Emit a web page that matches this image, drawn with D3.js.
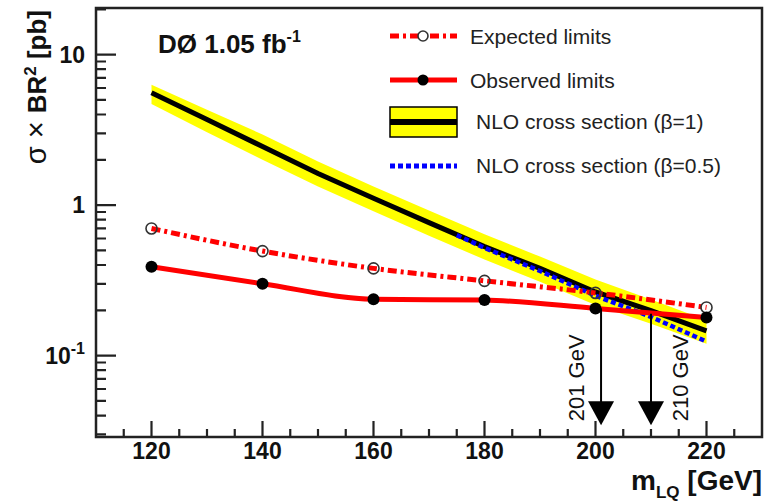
<!DOCTYPE html>
<html>
<head>
<meta charset="utf-8">
<script src="https://cdn.jsdelivr.net/npm/d3@7"></script>
<style>
  body { margin: 0; background: #fff; }
  text { font-family: "Liberation Sans", Arial, sans-serif; }
</style>
</head>
<body>
<div id="chart"></div>
<script>
// limits
var massPoints = [120, 140, 160, 180, 200, 220];
var expectedLimit = [0.70, 0.495, 0.38, 0.314, 0.261, 0.209];
var observedLimit = [0.39, 0.30, 0.237, 0.234, 0.206, 0.179];

// NLO cross section (beta=1) with its uncertainty band
var nloMass = [120, 130, 140, 150, 160, 170, 180, 190, 200, 210, 220];
var nloXsec = [5.57, 3.71, 2.45, 1.62, 1.11, 0.765, 0.53, 0.38, 0.265, 0.199, 0.146];
var nloUp   = [6.3, 4.3, 2.95, 1.95, 1.33, 0.92, 0.64, 0.455, 0.32, 0.236, 0.172];
var nloDown = [4.7, 3.05, 2.0, 1.33, 0.91, 0.625, 0.435, 0.31, 0.217, 0.163, 0.12];

// NLO cross section (beta=0.5)
var halfMass = [175, 180, 190, 200, 210, 220];
var halfXsec = [0.632, 0.52, 0.365, 0.25, 0.181, 0.124];

// mass limit arrows
var limitMass = [201, 210];
var limitFrom = [0.206, 0.19];
var limitTo = 0.0345;
var limitLabel = ["201 GeV", "210 GeV"];

var xMajor = [120, 140, 160, 180, 200, 220];
var yMajor = [0.1, 1, 10];

var width = 773, height = 504;
var margin = {top: 8, right: 11, bottom: 67, left: 96};
var w = width - margin.left - margin.right,
    h = height - margin.top - margin.bottom;

var x = d3.scaleLinear().domain([110, 230]).range([0, w]);
var y = d3.scaleLog().domain([0.0288, 20.4]).range([h, 0]);

var svg = d3.select("#chart").append("svg")
  .attr("width", width)
  .attr("height", height);

var main = svg.append("g")
  .attr("transform", "translate(" + margin.left + "," + margin.top + ")");

// clip so nothing leaves the frame
main.append("clipPath").attr("id", "clip")
  .append("rect").attr("width", w).attr("height", h);

var plot = main.append("g").attr("clip-path", "url(#clip)");

// yellow band
var band = d3.area()
  .x(function(d, i) { return x(nloMass[i]); })
  .y0(function(d, i) { return y(nloDown[i]); })
  .y1(function(d, i) { return y(nloUp[i]); });

plot.append("path")
  .datum(nloMass)
  .attr("d", band)
  .style("fill", "#ffff00")
  .style("stroke", "none");

plot.append("path")
  .datum(nloMass)
  .attr("d", d3.line()
    .x(function(d, i) { return x(nloMass[i]); })
    .y(function(d, i) { return y(nloXsec[i]); }))
  .style("fill", "none")
  .style("stroke", "#000")
  .style("stroke-width", 5);

plot.append("path")
  .datum(halfMass)
  .attr("d", d3.line()
    .x(function(d, i) { return x(halfMass[i]); })
    .y(function(d, i) { return y(halfXsec[i]); }))
  .style("fill", "none")
  .style("stroke", "#0000ff")
  .style("stroke-width", 4.5)
  .style("stroke-dasharray", "5,3");

// limit curves
var limitLine = function(vals) {
  return d3.line()
    .curve(d3.curveMonotoneX)
    .x(function(d, i) { return x(massPoints[i]); })
    .y(function(d, i) { return y(vals[i]); });
};

plot.append("path")
  .datum(massPoints)
  .attr("d", limitLine(expectedLimit))
  .style("fill", "none")
  .style("stroke", "#ff0000")
  .style("stroke-width", 5)
  .style("stroke-dasharray", "9,4,3,4");

plot.append("path")
  .datum(massPoints)
  .attr("d", limitLine(observedLimit))
  .style("fill", "none")
  .style("stroke", "#ff0000")
  .style("stroke-width", 5);

plot.selectAll(".exp-dot")
  .data(massPoints)
  .enter().append("circle")
  .attr("cx", function(d) { return x(d); })
  .attr("cy", function(d, i) { return y(expectedLimit[i]); })
  .attr("r", 5.5)
  .style("fill", "none")
  .style("stroke", "#333")
  .style("stroke-width", 1.6);

plot.selectAll(".obs-dot")
  .data(massPoints)
  .enter().append("circle")
  .attr("cx", function(d) { return x(d); })
  .attr("cy", function(d, i) { return y(observedLimit[i]); })
  .attr("r", 6)
  .style("fill", "#000");

// arrows
limitMass.forEach(function(m, i) {
  var ax = x(m), top = y(limitFrom[i]), tip = y(limitTo);
  main.append("line")
    .attr("x1", ax).attr("x2", ax)
    .attr("y1", top).attr("y2", tip - 20)
    .style("stroke", "#000")
    .style("stroke-width", 2);
  main.append("path")
    .attr("d", "M" + (ax - 13) + "," + (tip - 24) + "L" + (ax + 13) + "," + (tip - 24) + "L" + ax + "," + tip + "Z")
    .style("fill", "#000");
  var tx = i == 0 ? ax - 17 : ax + 37;
  main.append("text")
    .attr("transform", "translate(" + tx + "," + (tip - 4) + ") rotate(-90)")
    .style("font-size", "22px")
    .style("fill", "#111")
    .text(limitLabel[i]);
});

// ticks, pointing into the frame
var yMinor = [];
[0.01, 0.1, 1, 10].forEach(function(dec) {
  for (var k = 2; k <= 9; k++) {
    var v = dec * k;
    if (v >= y.domain()[0] && v <= y.domain()[1]) yMinor.push(v);
  }
});
var xMinor = d3.range(115, 230, 5).filter(function(v) { return xMajor.indexOf(v) < 0; });

var tp = d3.path();
yMajor.forEach(function(v) { tp.moveTo(0, y(v)); tp.lineTo(20, y(v)); });
yMinor.forEach(function(v) { tp.moveTo(0, y(v)); tp.lineTo(10, y(v)); });
xMajor.forEach(function(v) { tp.moveTo(x(v), h); tp.lineTo(x(v), h - 16); });
xMinor.forEach(function(v) { tp.moveTo(x(v), h); tp.lineTo(x(v), h - 8); });

main.append("path")
  .attr("d", tp.toString())
  .attr("fill", "none")
  .attr("stroke", "#222")
  .attr("stroke-width", 2.2);

// frame
main.append("rect")
  .attr("width", w).attr("height", h)
  .style("fill", "none")
  .style("stroke", "#222")
  .style("stroke-width", 2.5);

// tick labels
main.selectAll(".xlab")
  .data(xMajor)
  .enter().append("text")
  .attr("x", function(d) { return x(d); })
  .attr("y", h + 22)
  .style("text-anchor", "middle")
  .style("font-size", "23px")
  .style("font-weight", "bold")
  .style("fill", "#111")
  .text(function(d) { return d; });

var ylab = main.selectAll(".ylab")
  .data(yMajor)
  .enter().append("text")
  .attr("x", -11)
  .attr("y", function(d) { return y(d) + 8; })
  .style("text-anchor", "end")
  .style("font-size", "23px")
  .style("font-weight", "bold")
  .style("fill", "#111");
ylab.each(function(d) {
  var t = d3.select(this);
  if (d < 1) {
    t.append("tspan").text("10");
    t.append("tspan").attr("dy", -10).style("font-size", "16px").text("-1");
  } else {
    t.text(d);
  }
});

// axis titles
var xt = svg.append("text")
  .attr("x", 762)
  .attr("y", 490)
  .style("text-anchor", "end")
  .style("font-size", "28px")
  .style("font-weight", "bold")
  .style("fill", "#111");
xt.append("tspan").text("m");
xt.append("tspan").attr("dy", 8).style("font-size", "17px").text("LQ");
xt.append("tspan").attr("dy", -8).text(" [GeV]");

var yt = svg.append("text")
  .attr("transform", "translate(46,10) rotate(-90)")
  .style("text-anchor", "end")
  .style("font-size", "26px")
  .style("font-weight", "bold")
  .style("fill", "#111");
yt.append("tspan").style("font-weight", "normal").style("font-size", "29px").text("σ × ");
yt.append("tspan").text("BR");
yt.append("tspan").attr("dy", -10).style("font-size", "17px").text("2");
yt.append("tspan").attr("dy", 10).text(" [pb]");

// experiment label
var dz = svg.append("text")
  .attr("x", 158)
  .attr("y", 53)
  .style("font-size", "26px")
  .style("font-weight", "bold")
  .style("fill", "#111");
dz.append("tspan").text("DØ 1.05 fb");
dz.append("tspan").attr("dy", -11).style("font-size", "16px").text("-1");

// legend
var lx0 = 390, lx1 = 457, ltx = 470;
var leg = svg.append("g");

leg.append("line")
  .attr("x1", lx0).attr("x2", lx1).attr("y1", 36).attr("y2", 36)
  .style("stroke", "#ff0000").style("stroke-width", 5)
  .style("stroke-dasharray", "9,4,3,4");
leg.append("circle")
  .attr("cx", 423).attr("cy", 36).attr("r", 5)
  .style("fill", "#fff").style("stroke", "#333").style("stroke-width", 1.6);
leg.append("text").attr("x", ltx).attr("y", 44).text("Expected limits");

leg.append("line")
  .attr("x1", lx0).attr("x2", lx1).attr("y1", 80).attr("y2", 80)
  .style("stroke", "#ff0000").style("stroke-width", 5);
leg.append("circle")
  .attr("cx", 423).attr("cy", 80).attr("r", 5.5)
  .style("fill", "#000");
leg.append("text").attr("x", ltx).attr("y", 88).text("Observed limits");

leg.append("rect")
  .attr("x", lx0).attr("y", 107).attr("width", lx1 - lx0).attr("height", 30)
  .style("fill", "#ffff00").style("stroke", "#000").style("stroke-width", 1.5);
leg.append("line")
  .attr("x1", lx0).attr("x2", lx1).attr("y1", 122).attr("y2", 122)
  .style("stroke", "#000").style("stroke-width", 6);
leg.append("text").attr("x", ltx + 6).attr("y", 129).text("NLO cross section (β=1)");

leg.append("line")
  .attr("x1", lx0).attr("x2", lx1).attr("y1", 166).attr("y2", 166)
  .style("stroke", "#0000ff").style("stroke-width", 5)
  .style("stroke-dasharray", "5,3");
leg.append("text").attr("x", ltx + 6).attr("y", 173).text("NLO cross section (β=0.5)");

leg.selectAll("text")
  .style("font-size", "21px")
  .style("fill", "#222");
</script>
</body>
</html>
